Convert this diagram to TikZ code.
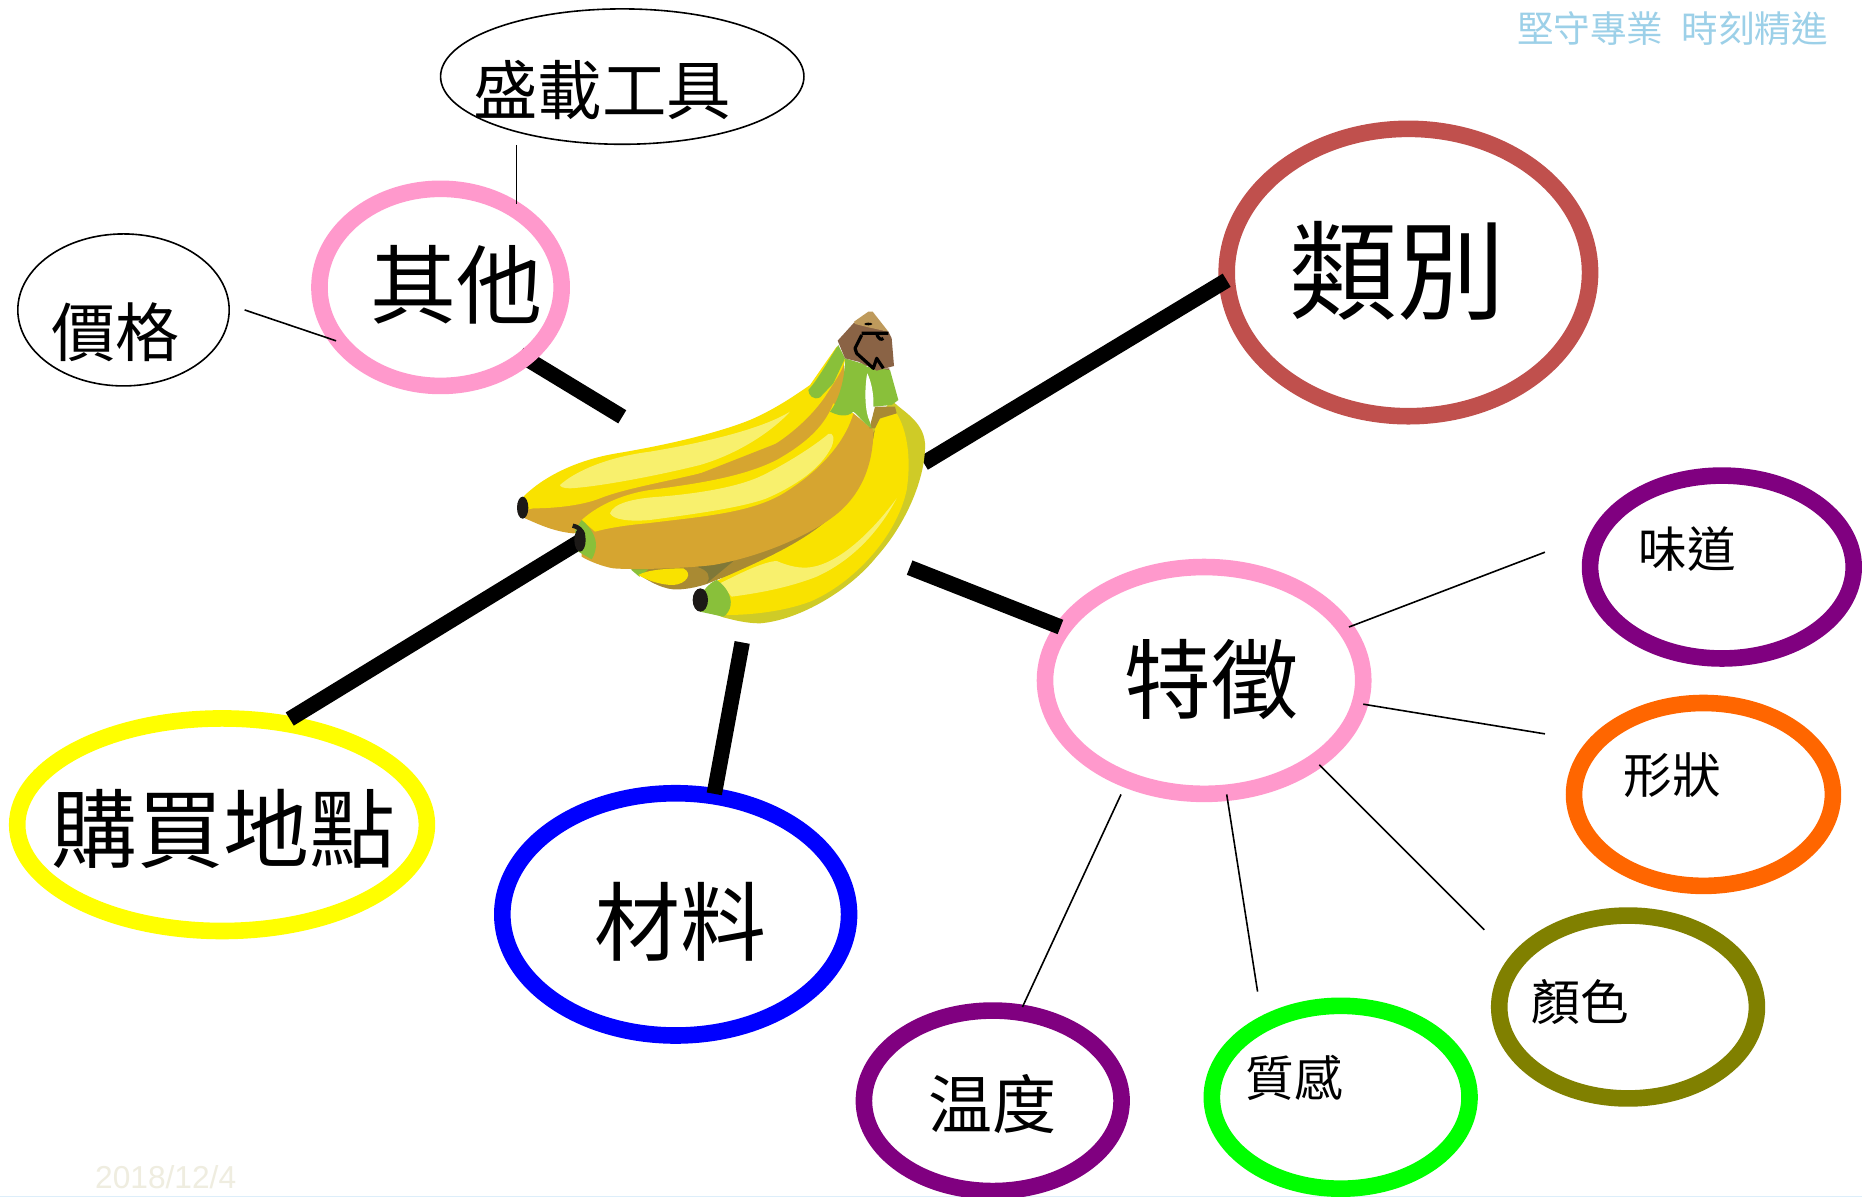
\documentclass[tikz,border=0pt]{standalone}
\usepackage{fontspec}
\setmainfont{Liberation Sans}
\newfontfamily\cjk{Noto Sans CJK TC}
\usetikzlibrary{shapes.geometric}
\definecolor{bYel}{HTML}{F9E200}
\definecolor{bLight}{HTML}{F8F06D}
\definecolor{bOrange}{HTML}{D6A530}
\definecolor{bDark}{HTML}{A98A33}
\definecolor{bDarker}{HTML}{7F7838}
\definecolor{bGreen}{HTML}{89C03A}
\definecolor{bRim}{HTML}{CFCB27}
\definecolor{bBrown}{HTML}{8A6345}
\definecolor{bTan}{HTML}{BE9A5C}
\definecolor{bBlack}{HTML}{1C1917}
\definecolor{ringPink}{HTML}{FF99CC}
\definecolor{ringRed}{HTML}{C0504D}
\definecolor{ringPurple}{HTML}{800080}
\definecolor{ringOrange}{HTML}{FF6600}
\definecolor{ringOlive}{HTML}{808000}
\definecolor{ringGreen}{HTML}{00FF00}
\definecolor{ringBlue}{HTML}{0000FF}
\definecolor{ringYellow}{HTML}{FFFF00}
\definecolor{headCol}{HTML}{9CD0E8}
\definecolor{dateCol}{HTML}{EFEDE0}
\definecolor{edgeCol}{HTML}{DDEEFA}
\pgfdeclarelayer{back}
\pgfsetlayers{back,main}
\tikzset{
  ovalring/.style 2 args={ellipse,draw,inner sep=0pt,outer sep=0pt,
    minimum width=#1*1.1875pt,minimum height=#2*1.1875pt},
  thickring/.style={line width=8.3pt},
  thinring/.style={line width=0.8pt,draw=black},
  spoke/.style={line width=7.7pt,black},
  twig/.style={line width=0.8pt,black},
  lab/.style={inner sep=0pt,font=\cjk\fontsize{#1}{#1}\selectfont},
  lab/.default=42
}
\begin{document}
\begin{tikzpicture}[x=0.59375pt,y=-0.59375pt]
\useasboundingbox (0,0) rectangle (1568,1008);
\begin{pgfonlayer}{back}
\fill[white] (0,0) rectangle (1568,1008);
\fill[edgeCol] (0,1007) rectangle (1568,1008);
\end{pgfonlayer}

% rings
\node[ovalring={153}{57},thinring] (zaiju) at (524,64.5) {};
\node[ovalring={102}{83},thickring,draw=ringPink] (qita) at (371,242) {};
\node[ovalring={89}{64},thinring] (jiage) at (104,261) {};
\node[ovalring={153}{121},thickring,draw=ringRed] (leibie) at (1186,229.5) {};
\node[ovalring={111}{77},thickring,draw=ringPurple] (weidao) at (1450,477.5) {};
\node[ovalring={134}{95.5},thickring,draw=ringPink] (tezheng) at (1014,573) {};
\node[ovalring={109}{77},thickring,draw=ringOrange] (xingzhuang) at (1434.5,669) {};
\node[ovalring={108.5}{77},thickring,draw=ringOlive] (yanse) at (1371,848) {};
\node[ovalring={108.5}{77},thickring,draw=ringGreen] (zhigan) at (1129,924) {};
\node[ovalring={108.5}{76},thickring,draw=ringPurple] (wendu) at (836,927) {};
\node[ovalring={146}{102},thickring,draw=ringBlue] (cailiao) at (569,770) {};
\node[ovalring={172.5}{89.5},thickring,draw=ringYellow] (goumai) at (187,694.5) {};

% labels
\node[lab=32.2] (tzaiju) at (507,76) {盛載工具};
\node[lab=43] (tqita) at (384,240) {其他};
\node[lab=32] (tjiage) at (97,280) {價格};
\node[lab=54] (tleibie) at (1177,228) {類別};
\node[lab=24.3] (tweidao) at (1421,462) {味道};
\node[lab=43.5] (ttezheng) at (1020,572) {特徵};
\node[lab=24.3] (txingzhuang) at (1408,653) {形狀};
\node[lab=24.3] (tyanse) at (1331,844) {顏色};
\node[lab=24.3] (tzhigan) at (1090,908) {質感};
\node[lab=32] (twendu) at (836,930) {温度};
\node[lab=43] (tcailiao) at (573,776) {材料};
\node[lab=43] (tgoumai) at (188,698) {購買地點};
\node[lab=18.3,text=headCol] (thead) at (1408.5,24) {堅守專業\hspace{0.5em}時刻精進};
\node[inner sep=0pt,text=dateCol,font=\fontsize{15.85}{16}\selectfont] (tdate) at (139.5,991) {2018/12/4};

% free ends at the banana
\coordinate (banA) at (524,351);
\coordinate (banB) at (778,390);
\coordinate (banC) at (766,478);
\coordinate (banD) at (625,541);
\coordinate (banE) at (490,455);

\begin{pgfonlayer}{back}
\draw[spoke] ([shift={(66.5,56.5)}]qita.center) -- (banA);
\end{pgfonlayer}
\draw[spoke] ([shift={(-153,6.5)}]leibie.center) -- (banB);
\draw[spoke] ([shift={(-121,-45)}]tezheng.center) -- (banC);
\draw[spoke] ([shift={(32.5,-101.5)}]cailiao.center) -- (banD);
\draw[spoke] ([shift={(57,-89)}]goumai.center) -- (banE);

\draw[twig] ([shift={(-89,57.5)}]zaiju.center) -- ([shift={(64,-70)}]qita.center);
\draw[twig] ([shift={(102,0)}]jiage.center) -- ([shift={(-88,45)}]qita.center);
\draw[twig] ([shift={(122,-45)}]tezheng.center) -- ([shift={(-149,-12.5)}]weidao.center);
\draw[twig] ([shift={(134,20)}]tezheng.center) -- ([shift={(-133.5,-51)}]xingzhuang.center);
\draw[twig] ([shift={(97,71)}]tezheng.center) -- ([shift={(-121,-65)}]yanse.center);
\draw[twig] ([shift={(19,96)}]tezheng.center) -- ([shift={(-70,-89)}]zhigan.center);
\draw[twig] ([shift={(-70,96)}]tezheng.center) -- ([shift={(25,-79)}]wendu.center);

% banana, drawn in the coordinates of a 3x crop
\begin{scope}[shift={(421.05,244.21)},x=0.16667pt,y=-0.16667pt]
% right banana rim
\fill[bRim] (1175,330) .. controls (1200,360) and (1270,390) .. (1275,460)
  .. controls (1278,560) and (1220,700) .. (1130,800)
  .. controls (1050,900) and (900,990) .. (780,1000)
  .. controls (740,1000) and (700,990) .. (670,982)
  -- (610,960) -- (660,870) -- (1120,400) -- cycle;
% shaded underside
\fill[bDark] (1125,420) .. controls (1110,590) and (1060,690) .. (985,735)
  .. controls (880,790) and (720,840) .. (620,882)
  .. controls (590,892) and (550,900) .. (520,898)
  .. controls (480,895) and (430,865) .. (395,838)
  -- (1000,600) -- cycle;
% right banana
\fill[bYel] (1130,390) -- (1190,370) .. controls (1220,420) and (1235,500) .. (1220,600)
  .. controls (1190,740) and (1060,880) .. (930,935)
  .. controls (850,965) and (750,975) .. (680,975)
  -- (630,882) .. controls (800,800) and (1050,720) .. (1110,500) -- cycle;
\fill[bLight] (660,880) .. controls (720,850) and (790,815) .. (830,813)
  .. controls (870,830) and (900,835) .. (930,832)
  .. controls (1020,820) and (1120,720) .. (1190,625)
  .. controls (1140,720) and (1060,810) .. (950,860)
  .. controls (860,895) and (770,910) .. (695,920) -- cycle;
\fill[bDarker] (590,830) -- (710,805) -- (620,880) .. controls (635,860) and (625,840) .. (590,830) -- cycle;
% hidden small banana
\fill[bGreen] (392,838) -- (445,838) -- (418,860) -- cycle;
\fill[bYel] (415,855) .. controls (440,840) and (500,835) .. (550,835)
  .. controls (580,850) and (560,882) .. (520,885)
  .. controls (480,885) and (440,870) .. (415,855) -- cycle;
% left banana
\fill[bOrange] (75,685) -- (70,650) -- (100,640) .. controls (170,640) and (250,620) .. (300,600)
  .. controls (400,570) and (600,540) .. (720,495)
  .. controls (850,450) and (960,360) .. (1030,210)
  -- (1040,300) -- (1000,400) -- (600,650) -- (220,730)
  .. controls (160,725) and (110,700) .. (75,685) -- cycle;
\fill[bYel] (70,620) .. controls (130,560) and (230,510) .. (350,490)
  .. controls (500,465) and (650,430) .. (750,390)
  .. controls (820,360) and (880,320) .. (930,285)
  -- (1010,170) -- (1035,210)
  .. controls (1030,240) and (1000,280) .. (975,320)
  .. controls (920,400) and (820,480) .. (720,515)
  .. controls (600,560) and (400,585) .. (300,625)
  .. controls (250,645) and (170,655) .. (100,655)
  -- (75,660) -- cycle;
\fill[bLight] (180,585) .. controls (230,540) and (330,500) .. (450,485)
  .. controls (600,460) and (780,420) .. (870,365)
  .. controls (820,420) and (720,490) .. (600,525)
  .. controls (480,555) and (300,590) .. (210,595)
  .. controls (190,595) and (180,590) .. (180,585) -- cycle;
% front banana
\fill[bOrange] (245,690) -- (1060,370) -- (1120,420)
  .. controls (1120,530) and (1080,620) .. (1000,680)
  .. controls (920,740) and (780,800) .. (640,825)
  .. controls (560,835) and (400,840) .. (340,835)
  .. controls (310,830) and (270,815) .. (245,800) -- cycle;
\fill[bYel] (245,690) .. controls (300,640) and (380,610) .. (450,600)
  .. controls (600,580) and (730,560) .. (830,510)
  .. controls (900,470) and (970,420) .. (1000,340)
  -- (1060,370) .. controls (1040,440) and (980,530) .. (850,610)
  .. controls (750,670) and (600,680) .. (440,700)
  .. controls (380,705) and (320,715) .. (285,725) -- cycle;
\fill[bLight] (330,670) .. controls (340,640) and (400,625) .. (480,620)
  .. controls (600,610) and (720,590) .. (790,555)
  .. controls (860,520) and (940,470) .. (985,432)
  .. controls (1000,425) and (1005,445) .. (995,470)
  .. controls (960,540) and (880,590) .. (800,625)
  .. controls (720,655) and (560,675) .. (450,690)
  .. controls (390,695) and (340,690) .. (330,670) -- cycle;
% tips
\fill[bGreen] (245,690) .. controls (270,710) and (290,740) .. (288,770)
  .. controls (285,790) and (280,800) .. (275,808) -- (235,785) -- (225,720) -- cycle;
\fill[bGreen] (600,915) .. controls (620,890) and (635,875) .. (650,870)
  .. controls (680,890) and (695,920) .. (692,945)
  .. controls (690,960) and (680,975) .. (670,980) -- (600,965) -- cycle;
\fill[bBlack] (68,653) ellipse [x radius=17,y radius=33];
\fill[bBlack] (240,750) ellipse [x radius=17,y radius=35];
\draw[bBlack,line width=2.2pt] (218,707) .. controls (235,710) and (245,720) .. (250,735);
\fill[bBlack] (601,930) ellipse [x radius=23,y radius=35];
% stem
\fill[bDark] (1108,415) -- (1125,350) -- (1185,350) -- (1190,370) -- (1140,385) -- (1125,415) -- cycle;
\fill[bBrown] (1130,235) -- (1168,235) -- (1165,272) -- cycle;
\fill[bGreen] (1015,165) -- (1035,205) -- (1000,280) -- (960,322)
  .. controls (940,332) and (925,315) .. (925,300)
  .. controls (960,260) and (985,210) .. (1015,165) -- cycle;
\fill[bGreen] (1035,205) -- (1100,225) -- (1100,280)
  .. controls (1098,330) and (1100,370) .. (1115,415)
  .. controls (1090,400) and (1075,375) .. (1060,365)
  .. controls (1040,385) and (1010,375) .. (990,365)
  .. controls (1010,340) and (1035,280) .. (1035,205) -- cycle;
\fill[bGreen] (1095,230) -- (1170,240) -- (1195,330) -- (1175,345) -- (1120,350)
  -- (1105,300) -- cycle;
\fill[white] (1102,250) .. controls (1092,300) and (1095,370) .. (1110,395)
  .. controls (1125,370) and (1125,300) .. (1102,250) -- cycle;
\fill[bBrown] (1013,152) -- (1062,98) -- (1165,125) -- (1175,145) -- (1182,228)
  -- (1130,242) -- (1075,215) -- (1035,205) -- cycle;
\fill[bTan] (1062,95) -- (1105,65) -- (1118,65) -- (1165,125) -- (1105,112) -- (1065,102) -- cycle;
\draw[black,line width=1.6pt,line join=round] (1085,130) -- (1165,130) (1130,130) .. controls (1135,150) and (1145,150) .. (1150,145)
  (1085,135) -- (1065,175) -- (1070,190) -- (1120,235) -- (1130,205) -- (1150,235);
\fill[black] (1105,102) ellipse [x radius=12,y radius=4];
\end{scope}
\end{tikzpicture}
\end{document}
